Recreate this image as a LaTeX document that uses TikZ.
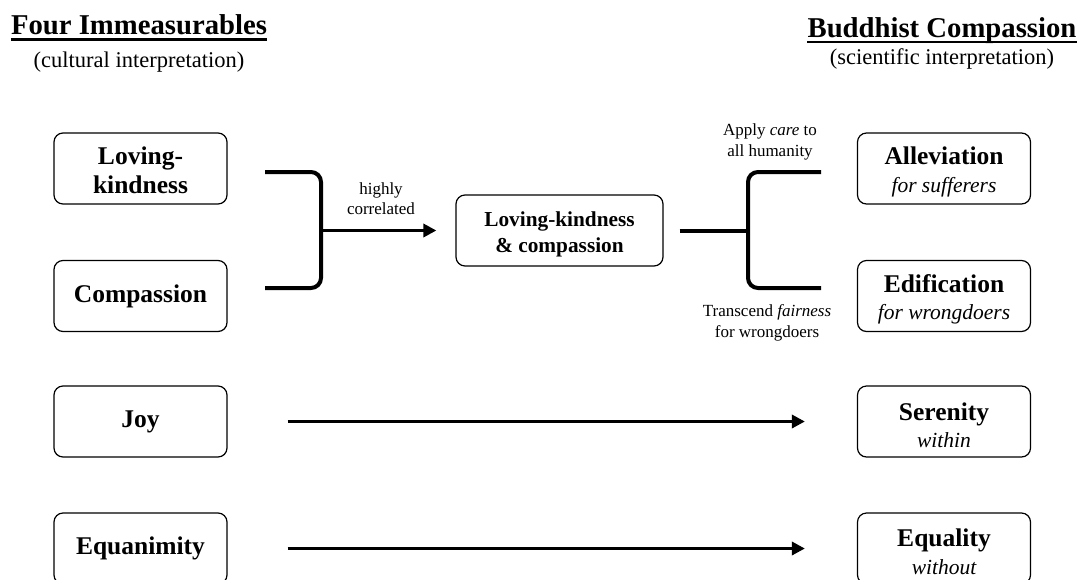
\documentclass[tikz,border=0pt]{standalone}
\usepackage{fontspec}
\setmainfont{Liberation Serif}
\usetikzlibrary{arrows.meta}
\begin{document}
\begin{tikzpicture}[x=1pt,y=-1pt,
  box/.style={draw, line width=1.2pt, rounded corners=9pt, minimum width=173pt, minimum height=71pt, align=center, inner sep=0pt, font=\fontsize{25.5}{27.5}\selectfont\bfseries},
  cbox/.style={box, minimum width=207pt},
  btext/.style={align=center, inner sep=0pt, font=\fontsize{25.5}{27.5}\selectfont\bfseries},
  ctext/.style={btext, font=\fontsize{21.3}{26}\selectfont\bfseries},
  heavy/.style={line width=4pt},
  brk/.style={heavy, rounded corners=10pt},
  arr/.style={line width=3.8pt, -{Triangle[length=13pt,width=13pt]}},
  note/.style={align=center, inner sep=0pt, font=\fontsize{17}{20.5}\selectfont},
  ttl/.style={anchor=base, inner sep=0pt, font=\fontsize{28.7}{32}\selectfont\bfseries},
  sub/.style={anchor=base, inner sep=0pt, font=\fontsize{22.5}{26}\selectfont},
  uline/.style={line width=2.2pt}]
\useasboundingbox (0,0) rectangle (1079,579);
\fill[white] (0,0) rectangle (1079,579);
\newcommand{\il}[1]{{\fontsize{21.5}{27.5}\selectfont\mdseries\itshape #1}}
% headers
\node[ttl] (tleft) at (139,34) {Four Immeasurables};
\draw[uline] ([yshift=-5.5pt]tleft.base west) -- ([yshift=-5.5pt]tleft.base east);
\node[sub] (sleft) at (139,67) {(cultural interpretation)};
\node[ttl] (tright) at (942,37) {Buddhist Compassion};
\draw[uline] ([yshift=-5pt]tright.base west) -- ([yshift=-5pt]tright.base east);
\node[sub] (sright) at (942,64) {(scientific interpretation)};
% left boxes
\node[box] (lk) at (140.5,168.5) {};
\node[btext] (lkt) at ([yshift=-2pt]lk.center) {Loving-\\[1pt]kindness};
\node[box] (co) at (140.5,296) {Compassion};
\node[box] (joy) at (140.5,421.5) {Joy};
\node[box] (eq) at (140.5,548.5) {Equanimity};
% right boxes
\node[box] (al) at (944,168.5) {};
\node[btext] (alt) at ([yshift=-3.5pt]al.center) {Alleviation\\\il{for sufferers}};
\node[box] (ed) at (944,296) {};
\node[btext] (edt) at ([yshift=-3.5pt]ed.center) {Edification\\\il{for wrongdoers}};
\node[box] (se) at (944,421.5) {};
\node[btext] (set) at ([yshift=-3.5pt]se.center) {Serenity\\\il{within}};
\node[box] (el) at (944,548.5) {};
\node[btext] (elt) at ([yshift=-3.5pt]el.center) {Equality\\\il{without}};
% center box
\node[cbox] (lkc) at (559.5,230.5) {};
\node[ctext] (lkct) at ([yshift=-3.5pt]lkc.center) {Loving-kindness\\\& compassion};
% left bracket
\coordinate (lbt) at (265,172);
\coordinate (lbtc) at (321,172);
\coordinate (lbbc) at (321,288);
\coordinate (lbb) at (265,288);
\coordinate (lbm) at (319,230.5);
\draw[brk] (lbt) -- (lbtc) -- (lbbc) -- (lbb);
\draw[arr, shorten >=19pt] (lbm) -- (lkc.west);
\node[note] (hc) at (381,198.5) {highly\\correlated};
% right bracket
\coordinate (rbm) at (750,230.5);
\coordinate (rbt) at (821,172);
\coordinate (rbtc) at (748,172);
\coordinate (rbbc) at (748,288);
\coordinate (rbb) at (821,288);
\draw[heavy, shorten <=16pt] (lkc.east) -- (rbm);
\draw[brk] (rbt) -- (rbtc) -- (rbbc) -- (rbb);
\node[note] (ac) at (770,142) {Apply \textit{care} to\\all humanity};
\node[note] (tf) at (767,323) {Transcend \textit{fairness}\\for wrongdoers};
% straight arrows
\draw[arr, shorten <=60pt, shorten >=52pt] (joy) -- (se);
\draw[arr, shorten <=60pt, shorten >=52pt] (eq) -- (el);
\end{tikzpicture}
\end{document}
